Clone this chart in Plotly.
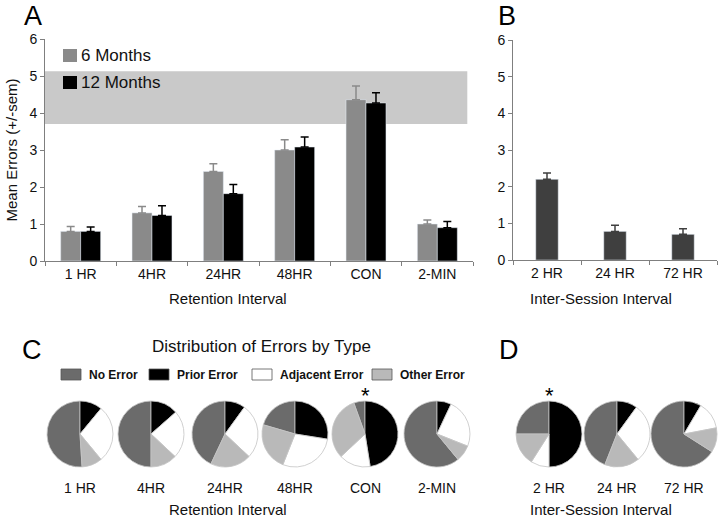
import plotly.graph_objects as go

W, H = 720, 521
FONT = "Liberation Sans, Arial, sans-serif"

# ---------------- data ----------------
retention = ["1 HR", "4HR", "24HR", "48HR", "CON", "2-MIN"]
m6_mean = [0.80, 1.30, 2.42, 3.00, 4.36, 1.00]
m6_sem = [0.13, 0.17, 0.21, 0.28, 0.37, 0.11]
m12_mean = [0.80, 1.23, 1.82, 3.08, 4.27, 0.90]
m12_sem = [0.12, 0.26, 0.25, 0.27, 0.28, 0.17]
band_range = [3.70, 5.13]
series_names = ["6 Months", "12 Months"]

intersession = ["2 HR", "24 HR", "72 HR"]
b_mean = [2.20, 0.78, 0.70]
b_sem = [0.17, 0.17, 0.15]

error_types = ["No Error", "Prior Error", "Adjacent Error", "Other Error"]
# fractions per condition: [no, prior, adjacent, other]
pie_c = {
    "1 HR": [0.51, 0.11, 0.28, 0.10],
    "4HR": [0.50, 0.135, 0.235, 0.13],
    "24HR": [0.43, 0.10, 0.27, 0.20],
    "48HR": [0.205, 0.275, 0.285, 0.235],
    "CON": [0.055, 0.475, 0.155, 0.315],
    "2-MIN": [0.61, 0.07, 0.24, 0.08],
}
pie_d = {
    "2 HR": [0.25, 0.50, 0.09, 0.16],
    "24 HR": [0.44, 0.10, 0.29, 0.17],
    "72 HR": [0.66, 0.085, 0.135, 0.12],
}
significant = ["CON", "2 HR"]
group_titles = ["Retention Interval", "Inter-Session Interval"]

# ---------------- styling ----------------
bar_colors = ["#8a8a8a", "#000000"]
pie_colors = ["#6b6b6b", "#000000", "#ffffff", "#b9b9b9"]
pie_cx = [80, 151, 225, 295, 365, 437, 549, 617, 684]
pie_cy, pie_r = 434, 32

def px(x):
    return x / W

def py(y):
    return 1 - y / H

fig = go.Figure()

for name, mean, sem, col in zip(series_names, [m6_mean, m12_mean], [m6_sem, m12_sem], bar_colors):
    fig.add_trace(go.Bar(
        x=retention, y=mean, name=name, marker_color=col,
        error_y=dict(type="data", array=sem, arrayminus=[0] * len(sem), symmetric=False,
                     color=col, thickness=1.5, width=4),
        xaxis="x", yaxis="y", showlegend=False,
    ))
fig.add_trace(go.Bar(
    x=intersession, y=b_mean, name="Inter-session", marker_color="#3f3f3f", width=0.33,
    error_y=dict(type="data", array=b_sem, arrayminus=[0] * len(b_sem), symmetric=False,
                 color="#3f3f3f", thickness=1.5, width=4),
    xaxis="x2", yaxis="y2", showlegend=False,
))

all_pies = list(pie_c.items()) + list(pie_d.items())
for i, (name, fr) in enumerate(all_pies):
    cx = pie_cx[i]
    fig.add_trace(go.Pie(
        labels=error_types, values=fr, sort=False, direction="clockwise",
        rotation=-fr[0] * 360,
        marker=dict(colors=pie_colors, line=dict(color="#c4c4c4", width=0.8)),
        textinfo="none", name=name, showlegend=False,
        domain=dict(x=[px(cx - pie_r - 1), px(cx + pie_r + 1)],
                    y=[py(pie_cy + pie_r + 1), py(pie_cy - pie_r - 1)]),
    ))

axis_common = dict(showline=True, linecolor="#7f7f7f", linewidth=1, ticks="outside",
                   tickcolor="#7f7f7f", ticklen=4, showgrid=False, zeroline=False,
                   automargin=False, tickfont=dict(size=14, color="#111"))

fig.update_layout(
    width=W, height=H, margin=dict(l=0, r=0, t=0, b=0),
    paper_bgcolor="white", plot_bgcolor="white",
    font=dict(family=FONT, color="#111"),
    barmode="group", bargap=0.44, bargroupgap=0, showlegend=False,
    xaxis=dict(domain=[px(45), px(473)], anchor="y", range=[-0.5, 5.5],
               tickson="boundaries", type="category", **axis_common),
    yaxis=dict(domain=[py(261), py(39)], anchor="x", range=[0, 6], dtick=1,
               title=dict(text="Mean Errors (+/-sem)", font=dict(size=15), standoff=8),
               **axis_common),
    xaxis2=dict(domain=[px(513), px(717)], anchor="y2", range=[-0.5, 2.5],
                tickson="boundaries", type="category", **axis_common),
    yaxis2=dict(domain=[py(260), py(40)], anchor="x2", range=[0, 6], dtick=1,
                **axis_common),
)

shapes = []
# shaded reference band in panel A
shapes.append(dict(type="rect", xref="x", yref="y", x0=-0.5, x1=5.42,
                   y0=band_range[0], y1=band_range[1], fillcolor="#c9c9c9",
                   line=dict(width=0), layer="below"))

ann = []
# legend for panel A
for k, (name, col) in enumerate(zip(series_names, bar_colors)):
    yc = 55 + 27 * k
    shapes.append(dict(type="rect", xref="paper", yref="paper",
                       x0=px(63), x1=px(77), y0=py(yc + 7), y1=py(yc - 6),
                       fillcolor=col, line=dict(width=0)))
    ann.append(dict(text=name, x=px(79), y=py(yc), xref="paper", yref="paper",
                    xanchor="left", yanchor="middle", showarrow=False,
                    font=dict(size=17, color="#111")))

# legend for pies
leg_sq = [61, 149, 252, 372]
for name, col, x0 in zip(error_types, pie_colors, leg_sq):
    shapes.append(dict(type="rect", xref="paper", yref="paper",
                       x0=px(x0), x1=px(x0 + 20), y0=py(380), y1=py(369),
                       fillcolor=col, line=dict(color="#555", width=0.8)))
    ann.append(dict(text="<b>" + name + "</b>", x=px(x0 + 26), y=py(375),
                    xref="paper", yref="paper", xanchor="left", yanchor="middle",
                    showarrow=False, font=dict(size=12, color="#111")))

for txt, x, y in [("A", 33, 16), ("B", 507, 16), ("C", 32, 350), ("D", 509, 350)]:
    ann.append(dict(text=txt, x=px(x), y=py(y), xref="paper", yref="paper",
                    xanchor="center", yanchor="middle",
                    showarrow=False, font=dict(size=27, color="#000")))
ann.append(dict(text="Distribution of Errors by Type", x=px(261), y=py(347),
                xref="paper", yref="paper", xanchor="center", yanchor="middle",
                showarrow=False, font=dict(size=17)))
for i, (name, fr) in enumerate(all_pies):
    ann.append(dict(text=name, x=px(pie_cx[i]), y=py(488), xref="paper", yref="paper",
                    xanchor="center", yanchor="middle", showarrow=False, font=dict(size=14)))
    if name in significant:
        ann.append(dict(text="*", x=px(pie_cx[i]), y=py(395), xref="paper", yref="paper",
                        xanchor="center", yanchor="middle",
                        showarrow=False, font=dict(size=22, color="#000")))
# group titles under bar panels and under pie rows
for yv in (298, 509):
    for title, xc in zip(group_titles, (228, 601)):
        ann.append(dict(text=title, x=px(xc), y=py(yv), xref="paper", yref="paper",
                        xanchor="center", yanchor="middle", showarrow=False,
                        font=dict(size=15)))
fig.update_layout(annotations=ann, shapes=shapes)

fig.write_html("out.html", config={"displayModeBar": False},
               post_script="document.body.style.margin='0';")
